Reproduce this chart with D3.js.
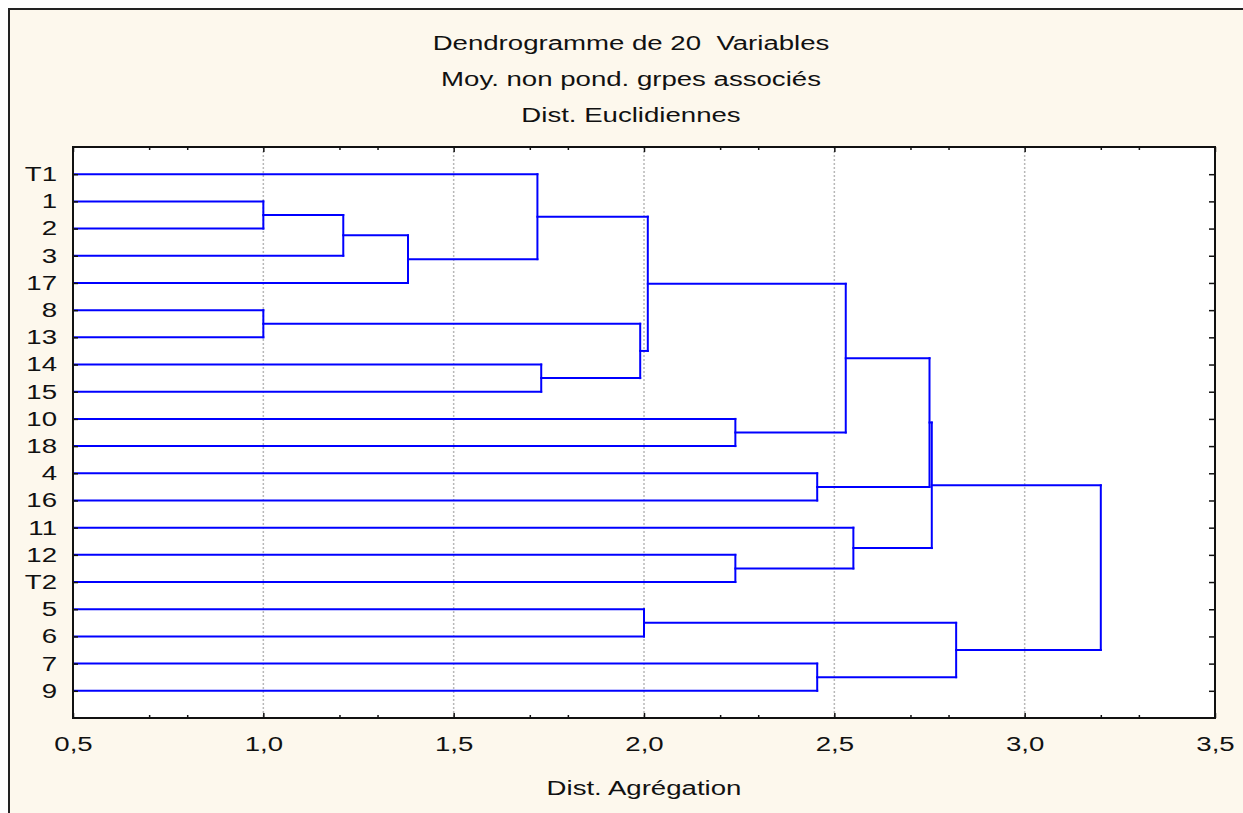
<!DOCTYPE html>
<html>
<head>
<meta charset="utf-8">
<script src="https://cdn.jsdelivr.net/npm/d3@7"></script>
<style>
  body { margin: 0; background: #fff; }
  text { font-family: "Liberation Sans", Arial, sans-serif; fill: #111; }
</style>
</head>
<body>
<script>
// Dendrogram data (Statistica style, leaves from top to bottom)
var leafLabels = ["T1", "1", "2", "3", "17", "8", "13", "14", "15", "10",
                  "18", "4", "16", "11", "12", "T2", "5", "6", "7", "9"];

// merges: [left, right, distance]; "m3" means the result of merge number 3
var merges = [
  ["1", "2", 1.00],     // m0
  ["m0", "3", 1.21],    // m1
  ["m1", "17", 1.38],   // m2
  ["T1", "m2", 1.72],   // m3
  ["8", "13", 1.00],    // m4
  ["14", "15", 1.73],   // m5
  ["m4", "m5", 1.99],   // m6
  ["m3", "m6", 2.01],   // m7
  ["10", "18", 2.24],   // m8
  ["m7", "m8", 2.53],   // m9
  ["4", "16", 2.455],   // m10
  ["m9", "m10", 2.75],  // m11
  ["12", "T2", 2.24],   // m12
  ["11", "m12", 2.55],  // m13
  ["m11", "m13", 2.756],// m14
  ["5", "6", 2.00],     // m15
  ["7", "9", 2.455],    // m16
  ["m15", "m16", 2.82], // m17
  ["m14", "m17", 3.20]  // m18
];

var xMajor = [0.5, 1.0, 1.5, 2.0, 2.5, 3.0, 3.5];
var xMinor = [0.7, 0.8, 1.2, 1.3, 1.7, 1.8, 2.2, 2.3, 2.7, 2.8, 3.2, 3.3];
var xGrid = [1.0, 1.5, 2.0, 2.5, 3.0];
var titleLines = ["Dendrogramme de 20\u00a0 Variables", "Moy. non pond. grpes associés", "Dist. Euclidiennes"];
var xTitle = "Dist. Agrégation";

// Settings (note: "top" is reserved on window, so p-prefixed names)
var w = 1243, h = 813;
var pLeft = 73, pRight = 1215, pTop = 147, pBottom = 718;
var stretch = "scale(1.38,1)";
var blue = "#0000ff";

var svg = d3.select("body").append("svg")
    .attr("width", w)
    .attr("height", h);

// outer frame
svg.append("rect")
    .attr("x", 9).attr("y", 9)
    .attr("width", w + 20).attr("height", h + 20)
    .attr("fill", "#fdf8ed")
    .attr("stroke", "#222")
    .attr("stroke-width", 2);

// plot area
svg.append("rect")
    .attr("x", pLeft).attr("y", pTop)
    .attr("width", pRight - pLeft).attr("height", pBottom - pTop)
    .attr("fill", "#fff");

var xScale = d3.scaleLinear().domain([0.5, 3.5]).range([pLeft, pRight]);
var yScale = d3.scaleLinear().domain([-1, 20]).range([pTop, pBottom]);

// grid
svg.selectAll("line.grid")
    .data(xGrid)
    .enter()
    .append("line")
    .attr("class", "grid")
    .attr("x1", function(d) { return xScale(d); })
    .attr("x2", function(d) { return xScale(d); })
    .attr("y1", pTop)
    .attr("y2", pBottom)
    .attr("stroke", "#b8b8b8")
    .attr("stroke-width", 1.5)
    .attr("stroke-dasharray", "2,2");

// tree nodes: leaf -> {x, y}
var nodes = {};
leafLabels.forEach(function(name, i) {
    nodes[name] = { x: 0.5, y: i };
});

var segs = [];
merges.forEach(function(m, i) {
    var a = nodes[m[0]], b = nodes[m[1]], d = m[2];
    segs.push([a.x, a.y, d, a.y]);
    segs.push([b.x, b.y, d, b.y]);
    segs.push([d, a.y, d, b.y]);
    nodes["m" + i] = { x: d, y: (a.y + b.y) / 2 };
});

svg.append("g")
    .selectAll("line")
    .data(segs)
    .enter()
    .append("line")
    .attr("x1", function(d) { return xScale(d[0]); })
    .attr("y1", function(d) { return yScale(d[1]); })
    .attr("x2", function(d) { return xScale(d[2]); })
    .attr("y2", function(d) { return yScale(d[3]); })
    .attr("stroke", blue)
    .attr("stroke-width", 2)
    .attr("stroke-linecap", "square");

// axes
var fmt = function(d) { return d3.format(".1f")(d).replace(".", ","); };

var xAxis = svg.append("g")
    .attr("transform", "translate(0," + pBottom + ")")
    .call(d3.axisBottom(xScale).tickValues(xMajor).tickSize(-5).tickPadding(19).tickFormat(fmt));
xAxis.selectAll("text").attr("font-size", 20).attr("transform", stretch);

svg.append("g")
    .attr("transform", "translate(0," + pBottom + ")")
    .call(d3.axisBottom(xScale).tickValues(xMinor).tickSize(-3).tickFormat(""));

svg.append("g")
    .attr("transform", "translate(0," + pTop + ")")
    .call(d3.axisTop(xScale).tickValues(xMajor).tickSize(-5).tickFormat(""));
svg.append("g")
    .attr("transform", "translate(0," + pTop + ")")
    .call(d3.axisTop(xScale).tickValues(xMinor).tickSize(-3).tickFormat(""));

var yAxis = svg.append("g")
    .attr("transform", "translate(" + pLeft + ",0)")
    .call(d3.axisLeft(yScale).tickValues(d3.range(leafLabels.length)).tickSize(-5)
        .tickFormat(function(i) { return leafLabels[i]; }));
yAxis.selectAll("text")
    .attr("x", 0)
    .attr("font-size", 20)
    .attr("transform", "translate(-16,0) " + stretch);

svg.append("g")
    .attr("transform", "translate(" + pRight + ",0)")
    .call(d3.axisRight(yScale).tickValues(d3.range(leafLabels.length)).tickSize(-6).tickFormat(""));

svg.selectAll(".domain").remove();
svg.selectAll(".tick line").attr("stroke", "#111").attr("stroke-width", 1.5);

// plot border
svg.append("rect")
    .attr("x", pLeft).attr("y", pTop)
    .attr("width", pRight - pLeft).attr("height", pBottom - pTop)
    .attr("fill", "none")
    .attr("stroke", "#111")
    .attr("stroke-width", 2);

// titles
svg.selectAll("text.title")
    .data(titleLines)
    .enter()
    .append("text")
    .attr("class", "title")
    .attr("text-anchor", "middle")
    .attr("font-size", 20)
    .attr("transform", function(d, i) { return "translate(631," + (50 + i * 36) + ") " + stretch; })
    .text(function(d) { return d; });

svg.append("text")
    .attr("text-anchor", "middle")
    .attr("font-size", 20)
    .attr("transform", "translate(644,795) " + stretch)
    .text(xTitle);
</script>
</body>
</html>
